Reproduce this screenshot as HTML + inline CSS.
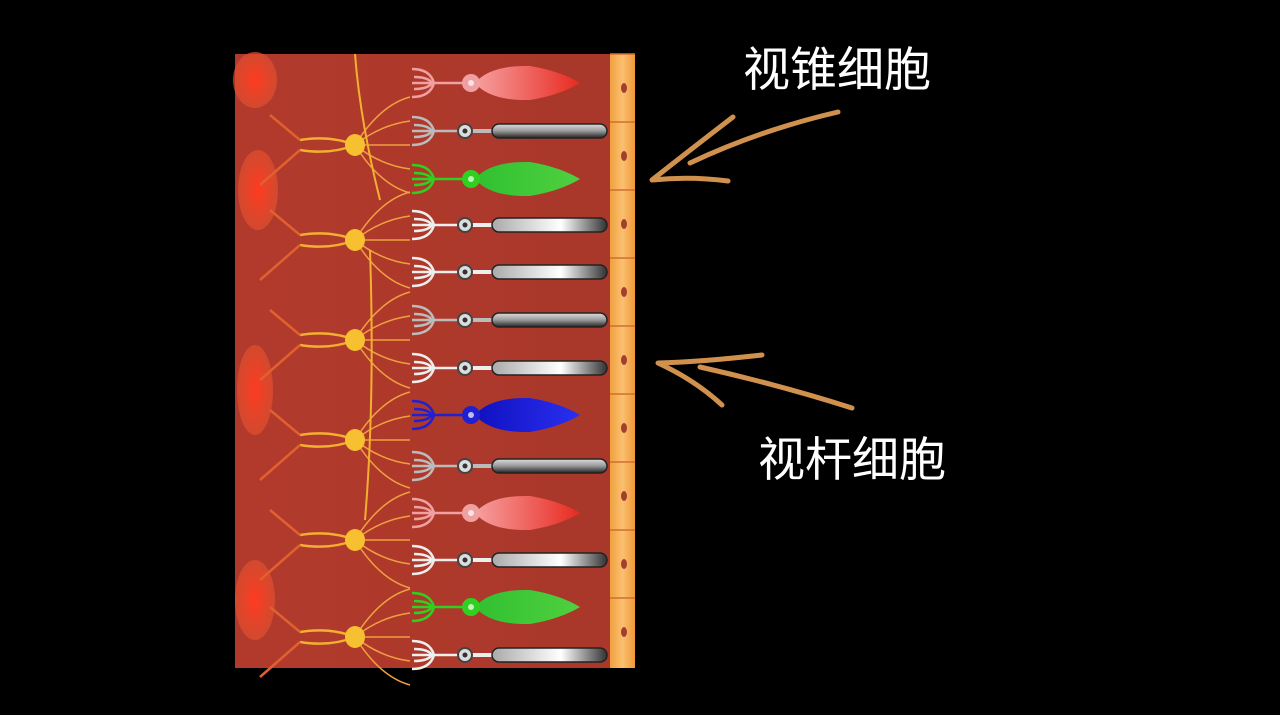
<!DOCTYPE html>
<html><head><meta charset="utf-8"><style>
body{margin:0;background:#000;width:1280px;height:715px;overflow:hidden}
svg{position:absolute;left:0;top:0}
.t{font-family:"Liberation Sans","Noto Sans CJK SC",sans-serif;fill:#fff;font-size:47px}
</style></head><body>
<svg id="s" width="1280" height="715" xmlns="http://www.w3.org/2000/svg">
<defs>
<linearGradient id="bg" x1="0" x2="1"><stop offset="0" stop-color="#b23a2c"/><stop offset="1" stop-color="#a8382a"/></linearGradient>
<linearGradient id="strip" x1="0" x2="1"><stop offset="0" stop-color="#f0a040"/><stop offset="0.5" stop-color="#fbc070"/><stop offset="1" stop-color="#f09838"/></linearGradient>
<linearGradient id="red" x1="0" x2="1"><stop offset="0" stop-color="#f6a0a0"/><stop offset="1" stop-color="#e82a20"/></linearGradient>
<linearGradient id="grn" x1="0" x2="1"><stop offset="0" stop-color="#30c030"/><stop offset="1" stop-color="#50d040"/></linearGradient>
<linearGradient id="blu" x1="0" x2="1"><stop offset="0" stop-color="#1010c0"/><stop offset="1" stop-color="#2a30f0"/></linearGradient>
<linearGradient id="rod" x1="0" x2="0" y1="0" y2="1"><stop offset="0" stop-color="#ddd"/><stop offset="0.5" stop-color="#999"/><stop offset="1" stop-color="#222"/></linearGradient>
<linearGradient id="rodl" x1="0" x2="1"><stop offset="0" stop-color="#aaa"/><stop offset="0.6" stop-color="#fff"/><stop offset="1" stop-color="#333"/></linearGradient>
<radialGradient id="blob"><stop offset="0" stop-color="#ff3a20"/><stop offset="1" stop-color="#e05030" stop-opacity="0.7"/></radialGradient>
</defs>
<rect x="235" y="54" width="400" height="614" fill="url(#bg)"/>
<rect x="610" y="54" width="25" height="614" fill="url(#strip)"/>
<g id="g"></g>
<g fill="none" stroke="#d1914e" stroke-width="5" stroke-linecap="round" stroke-linejoin="round">
<path d="M838 112 Q760 130 690 163"/>
<path d="M733 117 Q690 150 652 180 Q690 176 728 181"/>
<path d="M852 408 Q780 385 700 367"/>
<path d="M762 355 Q700 362 658 363 Q695 380 722 405"/>
</g>
<text class="t" x="743" y="86">视锥细胞</text>
<text class="t" x="758" y="476">视杆细胞</text>
</svg>
<script>
var g=document.getElementById('g'),h='';
for(var y=54;y<660;y+=68){h+='<line x1="610" x2="635" y1="'+y+'" y2="'+y+'" stroke="#d07030" stroke-width="1.5"/><ellipse cx="624" cy="'+(y+34)+'" rx="3" ry="5" fill="#a04030"/>';}
[[255,80,22,28],[258,190,20,40],[255,390,18,45],[255,600,20,40]].forEach(function(b){h+='<ellipse cx="'+b[0]+'" cy="'+b[1]+'" rx="'+b[2]+'" ry="'+b[3]+'" fill="url(#blob)"/>';});
var yc=[145,240,340,440,540,637];
yc.forEach(function(y){
h+='<g fill="none" stroke="#f2b030" stroke-width="2.5"><path d="M355 '+y+' Q330 '+(y-10)+' 300 '+(y-5)+'"/><path d="M355 '+y+' Q330 '+(y+10)+' 300 '+(y+5)+'"/><path d="M300 '+(y-5)+' L270 '+(y-30)+'" stroke="#e06030"/><path d="M300 '+(y+5)+' L260 '+(y+40)+'" stroke="#e06030"/>';
for(var k=-2;k<=2;k++){h+='<path d="M355 '+y+' Q380 '+(y+k*20)+' 410 '+(y+k*24)+'" stroke-width="1.5" stroke="#f0a040"/>';}
h+='</g><ellipse cx="355" cy="'+y+'" rx="10" ry="11" fill="#f6c030"/>';});
h+='<path d="M355 54 Q360 120 380 200 M370 250 Q375 400 365 520" stroke="#f2b030" stroke-width="2" fill="none"/>';
var rows=[[83,'r'],[131,'d'],[179,'g'],[225,'l'],[272,'l'],[320,'d'],[368,'l'],[415,'b'],[466,'d'],[513,'r'],[560,'l'],[607,'g'],[655,'l']];
rows.forEach(function(r){var y=r[0],t=r[1];
var c={r:'#f0a0a0',g:'#30d020',b:'#2020d0',d:'#bbb',l:'#eee'}[t];
h+='<g fill="none" stroke="'+c+'" stroke-width="2.5"><path d="M412 '+(y-14)+' Q430 '+(y-14)+' 434 '+y+' Q430 '+(y+14)+' 412 '+(y+14)+'"/><path d="M414 '+(y-6)+' Q428 '+(y-6)+' 432 '+y+' Q428 '+(y+6)+' 414 '+(y+6)+'"/><line x1="412" y1="'+y+'" x2="470" y2="'+y+'"/></g>';
if(t=='r'||t=='g'||t=='b'){var f=t=='r'?'url(#red)':t=='g'?'url(#grn)':'url(#blu)';
h+='<path d="M475 '+y+' Q490 '+(y-18)+' 530 '+(y-17)+' Q560 '+(y-12)+' 580 '+y+' Q560 '+(y+12)+' 530 '+(y+17)+' Q490 '+(y+18)+' 475 '+y+'Z" fill="'+f+'"/><circle cx="471" cy="'+y+'" r="9" fill="'+c+'"/><circle cx="471" cy="'+y+'" r="3" fill="#fff" opacity="0.7"/>';}
else{h+='<line x1="470" y1="'+y+'" x2="495" y2="'+y+'" stroke="'+c+'" stroke-width="4"/><rect x="492" y="'+(y-7)+'" width="115" height="14" rx="7" fill="'+(t=='d'?'url(#rod)':'url(#rodl)')+'" stroke="#222" stroke-width="1.5"/><circle cx="465" cy="'+y+'" r="7" fill="#ddd" stroke="#444" stroke-width="2"/><circle cx="465" cy="'+y+'" r="2.5" fill="#333"/>';}
});
g.innerHTML=h;
</script>
</body></html>
